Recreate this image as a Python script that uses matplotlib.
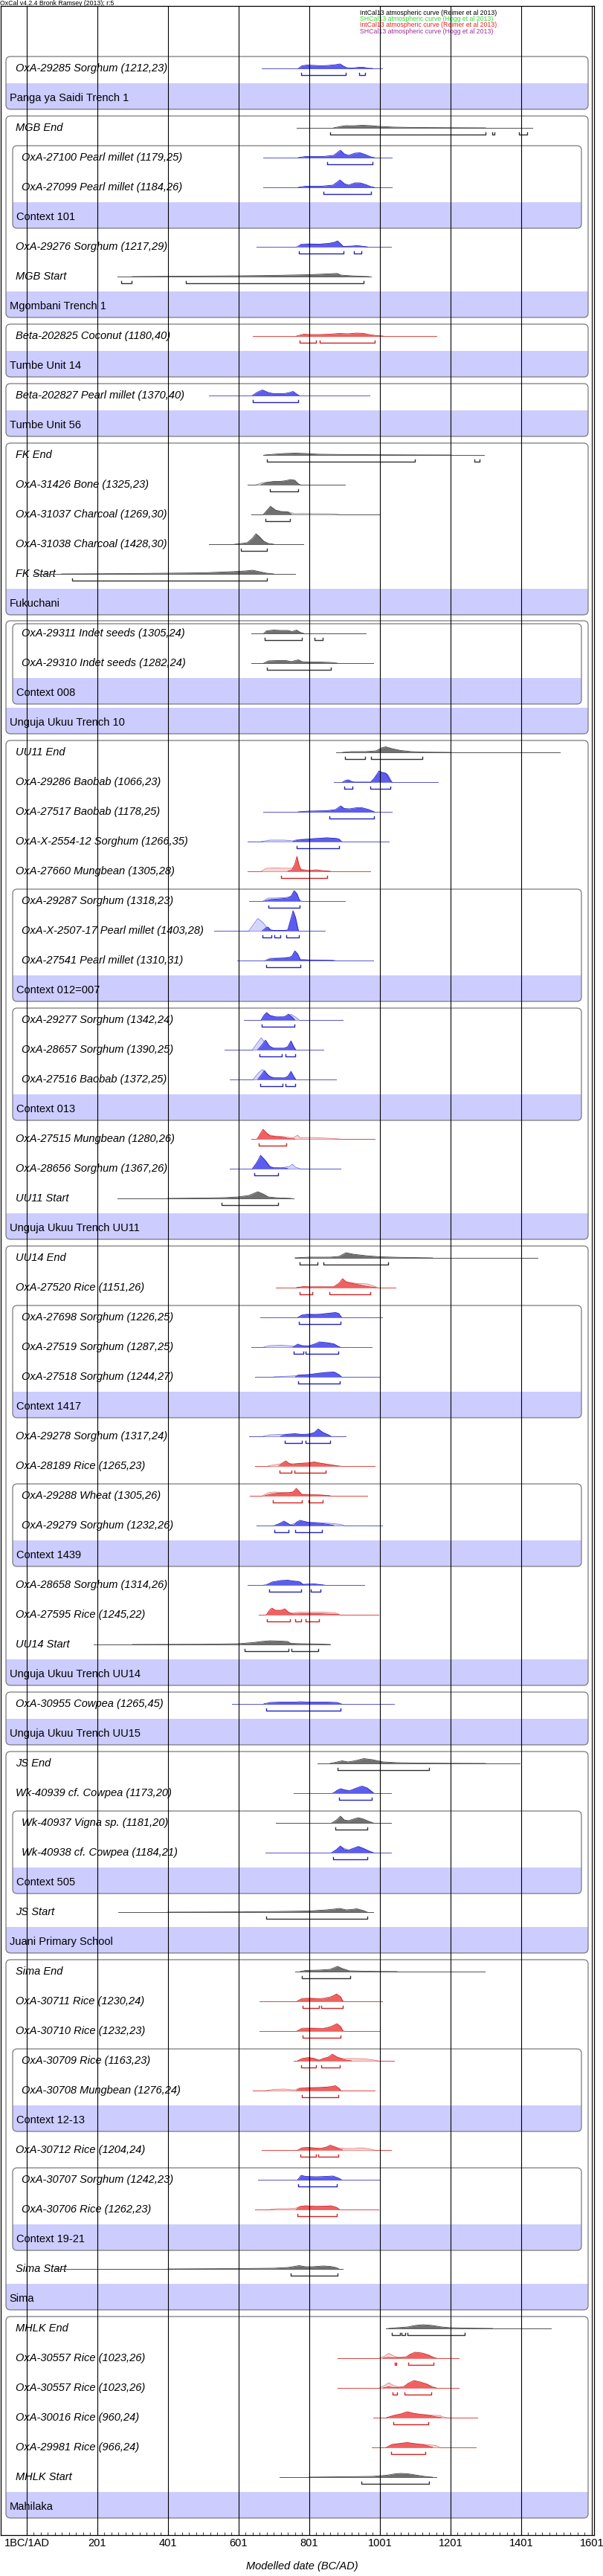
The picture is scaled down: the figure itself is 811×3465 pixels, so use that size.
import numpy as np
import matplotlib.pyplot as plt
from matplotlib.patches import FancyBboxPatch, Rectangle

# ---- data read from the OxCal multiplot ----
labels = [
    "OxA-29285 Sorghum (1212,23)", "Panga ya Saidi Trench 1",
    "MGB End", "OxA-27100 Pearl millet (1179,25)", "OxA-27099 Pearl millet (1184,26)",
    "Context 101", "OxA-29276 Sorghum (1217,29)", "MGB Start", "Mgombani Trench 1",
    "Beta-202825 Coconut (1180,40)", "Tumbe Unit 14",
    "Beta-202827 Pearl millet (1370,40)", "Tumbe Unit 56",
    "FK End", "OxA-31426 Bone (1325,23)", "OxA-31037 Charcoal (1269,30)",
    "OxA-31038 Charcoal (1428,30)", "FK Start", "Fukuchani",
    "OxA-29311 Indet seeds (1305,24)", "OxA-29310 Indet seeds (1282,24)", "Context 008",
    "Unguja Ukuu Trench 10",
    "UU11 End", "OxA-29286 Baobab (1066,23)", "OxA-27517 Baobab (1178,25)",
    "OxA-X-2554-12 Sorghum (1266,35)", "OxA-27660 Mungbean (1305,28)",
    "OxA-29287 Sorghum (1318,23)", "OxA-X-2507-17 Pearl millet (1403,28)",
    "OxA-27541 Pearl millet (1310,31)", "Context 012=007",
    "OxA-29277 Sorghum (1342,24)", "OxA-28657 Sorghum (1390,25)", "OxA-27516 Baobab (1372,25)",
    "Context 013", "OxA-27515 Mungbean (1280,26)", "OxA-28656 Sorghum (1367,26)",
    "UU11 Start", "Unguja Ukuu Trench UU11",
    "UU14 End", "OxA-27520 Rice (1151,26)", "OxA-27698 Sorghum (1226,25)",
    "OxA-27519 Sorghum (1287,25)", "OxA-27518 Sorghum (1244,27)", "Context 1417",
    "OxA-29278 Sorghum (1317,24)", "OxA-28189 Rice (1265,23)", "OxA-29288 Wheat (1305,26)",
    "OxA-29279 Sorghum (1232,26)", "Context 1439", "OxA-28658 Sorghum (1314,26)",
    "OxA-27595 Rice (1245,22)", "UU14 Start", "Unguja Ukuu Trench UU14",
    "OxA-30955 Cowpea (1265,45)", "Unguja Ukuu Trench UU15",
    "JS End", "Wk-40939 cf. Cowpea (1173,20)", "Wk-40937 Vigna sp. (1181,20)",
    "Wk-40938 cf. Cowpea (1184,21)", "Context 505", "JS Start", "Juani Primary School",
    "Sima End", "OxA-30711 Rice (1230,24)", "OxA-30710 Rice (1232,23)",
    "OxA-30709 Rice (1163,23)", "OxA-30708 Mungbean (1276,24)", "Context 12-13",
    "OxA-30712 Rice (1204,24)", "OxA-30707 Sorghum (1242,23)", "OxA-30706 Rice (1262,23)",
    "Context 19-21", "Sima Start", "Sima",
    "MHLK End", "OxA-30557 Rice (1023,26)", "OxA-30557 Rice (1023,26)",
    "OxA-30016 Rice (960,24)", "OxA-29981 Rice (966,24)", "MHLK Start", "Mahilaka",
]

# curve colour per row: b = blue, r = red, k = black, - = group band
row_color = ("b-kbb-bk-r" "-b-kkkkk-k" "k--kbbbrbb" "b-bbb-rbk-" "krbbb-brrb"
             "-brk-b-kbk" "b-k-krrrr-" "rbr-k-krrr" "rk-")

# (name, first row, band row, nesting level)
groups = [
    ("Panga ya Saidi Trench 1", 0, 1, 0),
    ("Mgombani Trench 1", 2, 8, 0), ("Context 101", 3, 5, 1),
    ("Tumbe Unit 14", 9, 10, 0), ("Tumbe Unit 56", 11, 12, 0),
    ("Fukuchani", 13, 18, 0),
    ("Unguja Ukuu Trench 10", 19, 22, 0), ("Context 008", 19, 21, 1),
    ("Unguja Ukuu Trench UU11", 23, 39, 0), ("Context 012=007", 28, 31, 1),
    ("Context 013", 32, 35, 1),
    ("Unguja Ukuu Trench UU14", 40, 54, 0), ("Context 1417", 42, 45, 1),
    ("Context 1439", 48, 50, 1),
    ("Unguja Ukuu Trench UU15", 55, 56, 0),
    ("Juani Primary School", 57, 63, 0), ("Context 505", 59, 61, 1),
    ("Sima", 64, 75, 0), ("Context 12-13", 67, 69, 1), ("Context 19-21", 71, 73, 1),
    ("Mahilaka", 76, 82, 0),
]

# extent of the plotted distribution (years AD)
spread = {
    0: (666, 1007), 2: (766, 1432), 3: (671, 1035), 4: (671, 1035), 6: (651, 1032),
    7: (257, 976), 9: (641, 1161), 11: (517, 971), 13: (671, 1296), 14: (626, 902),
    15: (636, 1002), 16: (517, 785), 17: (20, 761), 19: (636, 962), 20: (636, 982),
    23: (877, 1511), 24: (870, 1166), 25: (671, 1035), 26: (626, 1026), 27: (626, 974),
    28: (631, 902), 29: (531, 845), 30: (596, 982), 32: (616, 896), 33: (561, 841),
    34: (575, 877), 36: (636, 986), 37: (575, 890), 38: (257, 756), 40: (762, 1447),
    41: (706, 1046), 42: (662, 1007), 43: (636, 977), 44: (647, 1002), 46: (631, 905),
    47: (647, 986), 48: (632, 966), 49: (651, 1007), 51: (626, 956), 52: (657, 996),
    53: (190, 861), 55: (582, 1041), 57: (825, 1396), 58: (756, 1032), 59: (706, 1032),
    60: (676, 1032), 62: (260, 982), 64: (761, 1298), 65: (661, 1007), 66: (661, 1002),
    67: (756, 1041), 68: (641, 986), 70: (666, 1032), 71: (656, 1002), 72: (647, 996),
    74: (80, 896), 76: (1017, 1486), 77: (880, 1225), 78: (880, 1225), 79: (982, 1276),
    80: (977, 1272), 81: (717, 1161),
}

# 95.4% ranges
ranges = {
    0: [(778, 905), (942, 958)], 2: [(860, 1300), (1319, 1326), (1394, 1418)],
    3: [(851, 979)], 4: [(840, 976)], 6: [(772, 898), (928, 948)],
    7: [(268, 297), (452, 955)], 9: [(773, 821), (831, 987)], 11: [(641, 769)],
    13: [(681, 1101), (1268, 1284)], 14: [(689, 770)], 15: [(676, 746)], 16: [(607, 680)],
    17: [(130, 681)], 19: [(674, 779), (816, 838)], 20: [(681, 863)],
    23: [(902, 958), (975, 1120)], 24: [(900, 923), (974, 1030)], 25: [(857, 985)],
    26: [(765, 886)], 27: [(721, 852)], 28: [(685, 773)],
    29: [(669, 694), (702, 719), (736, 771)], 30: [(679, 776)], 32: [(666, 758)],
    33: [(660, 724), (734, 761)], 34: [(662, 726), (734, 760)], 36: [(657, 735)],
    37: [(646, 712)], 38: [(553, 712)], 40: [(774, 824), (842, 1024)],
    41: [(774, 810), (858, 974)], 42: [(772, 890)], 43: [(756, 785), (790, 884)],
    44: [(770, 888)], 46: [(731, 779), (791, 859)], 47: [(717, 751), (759, 847)],
    48: [(698, 781), (799, 838)], 49: [(702, 742), (762, 836)],
    51: [(687, 777), (805, 832)], 52: [(681, 746), (760, 777), (790, 828)],
    53: [(618, 743), (750, 827)], 55: [(678, 890)], 57: [(881, 1140)], 58: [(885, 977)],
    59: [(875, 965)], 60: [(868, 965)], 62: [(678, 965)], 64: [(781, 917)],
    65: [(783, 829), (834, 896)], 66: [(783, 890)], 67: [(777, 821), (835, 888)],
    68: [(781, 884)], 70: [(775, 821), (827, 884)], 71: [(770, 879)], 72: [(768, 879)],
    74: [(749, 880)], 76: [(1035, 1058), (1062, 1073), (1078, 1240)],
    77: [(1043, 1047), (1081, 1153)], 78: [(1037, 1050), (1071, 1147)],
    79: [(1039, 1137)], 80: [(1032, 1129)], 81: [(948, 1141)],
}

# modelled (posterior) probability, (year, relative density)
posterior = {
    0: [(770, 0), (780, 3.5), (795, 4.5), (815, 4), (835, 3.5), (855, 4), (875, 5), (888, 6), (898, 3), (908, 0.8), (925, 0.5), (940, 1.5), (955, 1.5), (965, 0.3), (980, 0)],
    2: [(870, 0), (890, 2), (905, 3), (925, 2.8), (950, 3.5), (975, 3), (1000, 2), (1040, 1), (1100, 0.5), (1200, 0.2), (1300, 0)],
    3: [(770, 0), (790, 1.5), (840, 1.5), (870, 3), (889, 10), (900, 5), (912, 3), (930, 6), (945, 6.5), (960, 4), (975, 1), (985, 0)],
    4: [(770, 0), (790, 1.5), (835, 1.5), (868, 3), (888, 10), (900, 5), (912, 3), (930, 6), (945, 6), (962, 3.5), (975, 1), (985, 0)],
    6: [(770, 0), (778, 3), (800, 3.5), (830, 3.5), (855, 4.5), (872, 6), (881, 8), (890, 4), (897, 0.5), (920, 0.3), (932, 1.5), (945, 1.2), (955, 0.3), (965, 0)],
    7: [(300, 0), (450, 0.5), (600, 1), (700, 1.5), (800, 2.5), (850, 3.5), (880, 4.2), (890, 2), (920, 1), (950, 0.3), (970, 0)],
    9: [(765, 0), (785, 2.5), (805, 2), (830, 2), (860, 2.5), (885, 3.5), (910, 3), (935, 4), (955, 3.5), (975, 1.5), (995, 0.5), (1010, 0)],
    11: [(640, 0), (652, 4), (668, 7.5), (685, 4), (700, 2.5), (730, 2.5), (745, 4), (755, 5.5), (765, 2), (772, 0)],
    13: [(675, 0), (700, 1), (730, 2), (760, 2.5), (790, 2), (830, 1), (900, 0.6), (1000, 0.3), (1100, 0.1), (1200, 0)],
    14: [(665, 0), (680, 3), (700, 4.5), (720, 4.5), (735, 5.5), (748, 7), (760, 6), (770, 1), (775, 0)],
    15: [(672, 0), (682, 6), (691, 11), (705, 6), (720, 4), (740, 3.5), (750, 0)],
    16: [(590, 0), (610, 1), (625, 2), (640, 8), (650, 14), (660, 10), (672, 4), (685, 1), (700, 0)],
    17: [(100, 0), (300, 0.5), (500, 1.5), (580, 3), (620, 4), (640, 5), (660, 3), (680, 1), (700, 0)],
    19: [(672, 0), (680, 3.5), (700, 4.5), (720, 4), (740, 4), (752, 2.5), (765, 4.5), (775, 1.5), (785, 0)],
    20: [(672, 0), (685, 3), (710, 3.5), (735, 3.5), (750, 2), (770, 4.5), (780, 2), (800, 1.5), (830, 1.5), (860, 1), (880, 0)],
    23: [(895, 0), (920, 1), (960, 1), (990, 2), (1005, 6), (1017, 7.5), (1035, 5), (1060, 2.5), (1090, 1), (1130, 0.3), (1200, 0)],
    24: [(895, 0), (905, 2.5), (912, 3), (922, 0.5), (930, 0), (975, 0), (985, 5), (998, 15), (1008, 13), (1020, 11), (1030, 2), (1035, 0)],
    25: [(770, 0), (800, 1), (850, 1.5), (875, 3), (890, 8), (900, 4.5), (915, 4), (935, 5.5), (950, 5.5), (970, 3), (985, 0)],
    26: [(755, 0), (770, 2), (790, 3), (820, 4), (850, 5), (870, 4.5), (885, 3.5), (892, 0)],
    27: [(740, 0), (752, 2), (760, 10), (766, 20), (772, 8), (778, 1.5), (800, 1), (820, 2), (835, 1), (860, 0)],
    28: [(675, 0), (690, 2), (720, 3), (740, 4), (750, 7), (758, 14), (766, 10), (774, 0)],
    29: [(668, 0), (678, 4), (684, 5), (692, 1), (700, 0.5), (730, 0.5), (740, 1), (748, 15), (755, 27), (762, 18), (770, 0)],
    30: [(680, 0), (690, 2), (720, 3), (745, 4), (752, 6), (760, 13), (768, 9), (776, 0.5), (800, 0.5), (840, 0.5), (870, 0)],
    32: [(665, 0), (672, 6), (680, 10), (690, 6), (705, 4), (730, 4), (742, 8), (752, 4), (760, 0)],
    33: [(655, 0), (668, 7), (677, 13), (688, 5), (700, 2), (730, 2), (740, 4), (749, 12), (757, 4), (762, 0)],
    34: [(655, 0), (665, 6), (674, 12), (685, 5), (700, 2), (730, 2), (740, 4), (749, 11), (757, 4), (762, 0)],
    36: [(655, 0), (663, 8), (670, 13), (680, 8), (690, 4), (710, 3), (730, 2), (740, 0.5), (760, 0)],
    37: [(640, 0), (652, 8), (663, 18), (675, 12), (688, 3), (700, 1), (730, 1), (740, 0)],
    38: [(400, 0), (500, 0.5), (560, 1), (600, 2), (630, 4), (655, 9), (670, 6), (685, 2), (710, 0.8), (750, 0)],
    40: [(760, 0), (800, 1), (860, 1), (885, 2), (905, 7), (925, 5), (960, 3), (1000, 1.5), (1050, 0.8), (1110, 0.3), (1150, 0)],
    41: [(765, 0), (785, 1.5), (800, 1), (870, 1), (885, 6), (895, 12), (905, 8), (920, 6), (940, 4), (960, 2), (980, 0.5), (990, 0)],
    42: [(770, 0), (780, 3), (800, 3.5), (830, 4), (855, 5.5), (875, 6.5), (885, 5), (892, 0)],
    43: [(755, 0), (768, 4), (780, 2), (800, 1.5), (815, 4), (830, 7), (850, 6), (870, 4.5), (882, 1), (888, 0)],
    44: [(762, 0), (770, 2.5), (800, 3), (830, 5), (850, 6), (870, 6.5), (885, 3), (892, 0)],
    46: [(720, 0), (735, 2.5), (760, 3.5), (780, 2.5), (800, 3), (815, 5), (826, 10), (840, 5), (855, 2), (862, 0)],
    47: [(715, 0), (725, 4), (734, 7), (745, 3), (755, 2), (770, 3.5), (795, 4), (815, 5.5), (830, 4), (860, 1.5), (883, 0)],
    48: [(675, 0), (690, 2), (710, 3.5), (740, 4), (755, 5), (764, 10), (772, 6), (780, 1.5), (820, 1), (845, 0.5), (860, 0)],
    49: [(705, 0), (718, 3), (729, 6), (740, 3), (748, 0.5), (758, 0.5), (766, 5), (775, 7), (800, 4), (830, 3), (855, 1.5), (870, 0)],
    51: [(680, 0), (695, 4), (720, 6), (740, 6.5), (760, 5), (775, 4), (782, 0.5), (800, 1), (815, 1.5), (830, 0.5), (840, 0)],
    52: [(680, 0), (688, 6), (695, 9), (705, 6), (720, 6), (732, 8), (742, 3), (755, 1), (780, 1.5), (830, 1.5), (870, 0.5), (885, 0)],
    53: [(300, 0), (500, 0.3), (600, 1), (640, 2.5), (665, 4), (690, 5), (720, 4.5), (740, 4), (748, 1.5), (780, 1), (820, 0.8), (860, 0)],
    55: [(672, 0), (690, 2), (720, 2.5), (760, 2.5), (775, 3), (800, 2.5), (850, 2.5), (880, 2), (892, 0)],
    57: [(860, 0), (880, 2), (894, 3.5), (910, 2), (930, 3.5), (955, 6.5), (980, 5), (1010, 2), (1050, 1), (1100, 0.5), (1200, 0.2), (1300, 0)],
    58: [(870, 0), (880, 4), (890, 6), (903, 4), (915, 3), (935, 7), (950, 9.5), (965, 7), (975, 3), (982, 0)],
    59: [(865, 0), (878, 4), (889, 9), (900, 4), (912, 3), (928, 5.5), (940, 7), (955, 5), (970, 2), (982, 0)],
    60: [(865, 0), (878, 4), (889, 9), (900, 4), (912, 3), (928, 6), (940, 8), (955, 5.5), (970, 2), (982, 0)],
    62: [(400, 0), (600, 0.3), (700, 0.8), (800, 1.5), (850, 3), (870, 4), (887, 5), (905, 3), (920, 3.5), (935, 4.5), (955, 2), (965, 0)],
    64: [(775, 0), (790, 1.5), (830, 2), (860, 3), (881, 7), (895, 4), (915, 1), (960, 0.5), (1000, 0.2), (1050, 0)],
    65: [(768, 0), (780, 3), (810, 3.5), (840, 3), (860, 5), (878, 10), (890, 6), (896, 0)],
    66: [(768, 0), (780, 3), (810, 3.5), (840, 3), (860, 5), (879, 10), (890, 6), (896, 0)],
    67: [(768, 0), (780, 3), (800, 4.5), (815, 3), (828, 0.5), (840, 3), (855, 5), (866, 9), (880, 5), (895, 2), (910, 0.5), (920, 0)],
    68: [(765, 0), (775, 3), (800, 3.5), (830, 4), (860, 5), (875, 6.5), (885, 3), (890, 0)],
    70: [(770, 0), (780, 3), (800, 3.5), (820, 2.5), (835, 2), (850, 4), (860, 6.5), (875, 4), (885, 1.5), (895, 0)],
    71: [(768, 0), (778, 6), (790, 4.5), (820, 4), (850, 4.5), (868, 5), (885, 2), (892, 0)],
    72: [(764, 0), (775, 4), (790, 5), (820, 4), (850, 4.5), (862, 5), (878, 3), (886, 0)],
    74: [(400, 0), (600, 0.5), (700, 1), (740, 2), (760, 3.5), (772, 4.5), (790, 3), (810, 3), (840, 4), (860, 3.5), (876, 2), (885, 0)],
    76: [(1025, 0), (1050, 1), (1080, 2), (1100, 4), (1123, 5), (1150, 4), (1175, 2), (1200, 1), (1250, 0.4), (1320, 0)],
    77: [(1010, 0), (1025, 1), (1040, 0.5), (1075, 1), (1085, 5), (1100, 8), (1120, 7), (1140, 4), (1152, 0.5), (1160, 0)],
    78: [(1010, 0), (1025, 1.5), (1040, 0.5), (1068, 1), (1080, 6), (1097, 10), (1115, 8), (1135, 5), (1150, 0.5), (1160, 0)],
    79: [(1020, 0), (1040, 3), (1060, 5), (1078, 8), (1095, 6), (1120, 4), (1140, 3), (1160, 1), (1175, 0)],
    80: [(1020, 0), (1035, 4), (1060, 5.5), (1078, 6.5), (1100, 5), (1125, 3.5), (1140, 1.5), (1150, 0)],
    81: [(800, 0), (900, 0.5), (980, 1), (1020, 2.5), (1045, 4.5), (1060, 5), (1080, 4.5), (1100, 3), (1120, 1.5), (1135, 0.5), (1150, 0)],
}

# unmodelled calibrated date (likelihood), drawn lighter behind
likelihood = {
    6: [(765, 0), (778, 3.5), (800, 4), (830, 3.5), (860, 4.5), (881, 7), (897, 0.5), (932, 1.5), (960, 0)],
    14: [(650, 0), (670, 3), (700, 3.5), (740, 4), (760, 3), (775, 0)],
    15: [(670, 0), (682, 5), (691, 9), (705, 5), (720, 3.5), (745, 3), (760, 1), (780, 1.2), (830, 1), (870, 0.8), (885, 0)],
    24: [(975, 0), (990, 8), (1000, 12), (1015, 13), (1025, 9), (1035, 0)],
    26: [(665, 0), (690, 2), (730, 2), (755, 1), (765, 2.5), (800, 3.5), (850, 5), (880, 4), (892, 0)],
    27: [(665, 0), (680, 4), (700, 4.5), (745, 4), (760, 5), (766, 14), (775, 3), (800, 1), (840, 0.5), (860, 0)],
    28: [(670, 0), (685, 4), (700, 4), (730, 4.5), (750, 6), (758, 12), (772, 2), (780, 0)],
    29: [(630, 0), (645, 10), (655, 16.5), (668, 12), (680, 5), (692, 1), (700, 0.5), (730, 0.5), (740, 1), (748, 12), (755, 20), (764, 10), (770, 0)],
    30: [(675, 0), (690, 3), (730, 3.5), (750, 5), (760, 11), (772, 2), (800, 0.8), (850, 0.5), (875, 0)],
    32: [(665, 0), (678, 9), (690, 6), (710, 4), (735, 4.5), (750, 7.5), (765, 3), (772, 0)],
    33: [(640, 0), (655, 10), (665, 16), (675, 10), (690, 3), (700, 2), (730, 2), (740, 4), (749, 10), (758, 3), (763, 0)],
    34: [(642, 0), (655, 8), (668, 13.5), (678, 9), (692, 3), (730, 2), (740, 4), (749, 9), (758, 3), (763, 0)],
    36: [(652, 0), (662, 6), (672, 9), (685, 6), (700, 4), (730, 3), (755, 1.5), (768, 5), (775, 1.5), (800, 2), (830, 1.5), (870, 0.5), (885, 0)],
    37: [(640, 0), (652, 7), (665, 15), (680, 9), (692, 2), (720, 1), (745, 3), (753, 6), (762, 2), (775, 0)],
    41: [(765, 0), (785, 1), (870, 1), (885, 4), (895, 9), (910, 7), (940, 5.5), (965, 5), (985, 2), (995, 0)],
    42: [(768, 0), (780, 3), (795, 4.5), (820, 4), (850, 5), (880, 6), (892, 0)],
    43: [(672, 0), (690, 2), (720, 2.5), (740, 2), (760, 1), (768, 2.5), (790, 1), (815, 3), (830, 5), (855, 5), (875, 3), (888, 0)],
    44: [(700, 0), (740, 0.8), (765, 1.5), (800, 3), (840, 5), (875, 6), (892, 0)],
    46: [(670, 0), (690, 2), (720, 2.5), (760, 3), (790, 2), (815, 4.5), (826, 8), (845, 4), (862, 0)],
    47: [(685, 0), (700, 1.5), (720, 3), (734, 5), (750, 3), (790, 4), (815, 5), (845, 3), (880, 0.5), (890, 0)],
    48: [(668, 0), (685, 4), (700, 5), (725, 4.5), (750, 4.5), (764, 7), (780, 2), (830, 1.5), (860, 0)],
    49: [(700, 0), (729, 4), (748, 1), (766, 4), (780, 5), (820, 4), (860, 3), (890, 1.5), (900, 0)],
    51: [(672, 0), (690, 2), (720, 5), (770, 5), (785, 1), (800, 1.5), (835, 0.5), (845, 0)],
    52: [(678, 0), (695, 6), (720, 5), (732, 6), (750, 2), (770, 3.5), (840, 3.5), (875, 2.5), (888, 0)],
    58: [(865, 0), (890, 5), (915, 3.5), (950, 8), (970, 5), (985, 0)],
    60: [(865, 0), (889, 8), (912, 3.5), (940, 8.5), (960, 4), (982, 0)],
    65: [(765, 0), (780, 4), (800, 4.5), (830, 3.5), (860, 6), (878, 8.5), (892, 2), (900, 0)],
    66: [(765, 0), (780, 4), (810, 4), (840, 3.5), (860, 6), (878, 8.5), (892, 2), (900, 0)],
    67: [(768, 0), (790, 3), (812, 3.5), (828, 1), (845, 3), (866, 6), (880, 4.5), (900, 3), (930, 3), (960, 2.5), (985, 1), (995, 0)],
    68: [(680, 0), (700, 1.5), (730, 2), (750, 1), (762, 1), (770, 3), (800, 4), (840, 4), (870, 5.5), (888, 0)],
    70: [(768, 0), (790, 3), (830, 2), (860, 5), (880, 3), (905, 2), (930, 2), (945, 3), (965, 2), (985, 0)],
    72: [(690, 0), (710, 1), (740, 1), (760, 1.5), (775, 4), (800, 4.5), (860, 4.5), (888, 0)],
    77: [(1000, 0), (1015, 3), (1026, 6.5), (1040, 3), (1055, 1), (1075, 2), (1090, 5), (1110, 6), (1130, 5), (1150, 2), (1160, 0)],
    78: [(1000, 0), (1015, 3.5), (1026, 7), (1040, 3), (1055, 1), (1068, 2), (1085, 6), (1105, 7), (1130, 5), (1150, 2), (1160, 0)],
    79: [(1020, 0), (1045, 3), (1078, 6.5), (1100, 5), (1130, 4), (1160, 3), (1170, 3), (1180, 1), (1190, 0)],
    80: [(1018, 0), (1040, 4), (1078, 6), (1110, 4.5), (1140, 3.5), (1160, 2.5), (1170, 0)],
}

tick_years = [1, 201, 401, 601, 801, 1001, 1201, 1401, 1601]
tick_labels = ["1BC/1AD", "201", "401", "601", "801", "1001", "1201", "1401", "1601"]

legend_lines = [
    ("IntCal13 atmospheric curve (Reimer et al 2013)", "#000000"),
    ("SHCal13 atmospheric curve (Hogg et al 2013)", "#33dd33"),
    ("IntCal13 atmospheric curve (Reimer et al 2013)", "#ee2222"),
    ("SHCal13 atmospheric curve (Hogg et al 2013)", "#993399"),
]

PAL = {
    'b': dict(fill='#5c5cf0', edge='#2222c0', lik='#d6d6fa', likedge='#7a7ae0', base='#5555cc', rng='#2222bb'),
    'r': dict(fill='#f06060', edge='#d02222', lik='#fad6d6', likedge='#e07a7a', base='#e04444', rng='#d02222'),
    'k': dict(fill='#707070', edge='#404040', lik='#d6d6d6', likedge='#909090', base='#505050', rng='#303030'),
}

plt.rcParams['font.family'] = ['Liberation Sans', 'DejaVu Sans']

W, H = 812, 3466
fig = plt.figure(figsize=(W / 100, H / 100), dpi=100)
FL, FR, FT, FB = 1, 799, 9, 3411
pos = [FL / W, 1 - FB / H, (FR - FL) / W, (FB - FT) / H]

# layout axes in pixels: boxes, bands and labels
bx = fig.add_axes(pos, zorder=0)
bx.set_xlim(FL, FR)
bx.set_ylim(FB, FT)
bx.axis('off')

# data axes: years along x, pixel rows along y
ax = fig.add_axes(pos, zorder=1)
ax.patch.set_alpha(0)
PX_YR = 95 / 200
ax.set_xlim(1 + (FL - 36) / PX_YR, 1 + (FR - 36) / PX_YR)
ax.set_ylim(FB, FT)

ROW0, PITCH = 92, 40
def yc(i):
    return ROW0 + PITCH * i

level = [0] * len(labels)
for name, first, band, lev in groups:
    for i in range(first, band):
        level[i] = max(level[i], lev)
starts = {}
for name, first, band, lev in groups:
    starts.setdefault(first, []).append(lev)

# group boxes with shaded name bands
for name, first, band, lev in groups:
    x0, x1 = 8 + 9 * lev, 791 - 9 * lev
    top = yc(first) - 15
    if len(starts[first]) > 1:
        top += -1 if lev == 0 else 3
    bot = yc(band) + 16
    box = FancyBboxPatch((x0, top), x1 - x0, bot - top,
                         boxstyle='round,pad=0,rounding_size=6',
                         fc='none', ec='#7a7a7a', lw=0.9, zorder=2)
    bx.add_patch(box)
    band_rect = Rectangle((x0, yc(band) - 19), x1 - x0, 35, fc='#ccccff', ec='none', zorder=1)
    bx.add_patch(band_rect)
    band_rect.set_clip_path(box)
    bx.text(x0 + 4.7, yc(band), name, fontsize=10.5, va='center', ha='left', zorder=3)

for i, lab in enumerate(labels):
    c = row_color[i]
    if c == '-':
        continue
    bx.text(21 + 8.5 * level[i], yc(i), lab, fontsize=10.5, style='italic',
            va='center', ha='left', zorder=3)
    p = PAL[c]
    yb = yc(i) + 1
    lo, hi = spread[i]
    ax.plot([lo, hi], [yb, yb], color=p['base'], lw=0.7, zorder=2)
    if i in likelihood:
        xs, hs = zip(*likelihood[i])
        ax.fill_between(xs, yb, yb - np.array(hs), color=p['lik'], lw=0, zorder=3)
        ax.plot(xs, yb - np.array(hs), color=p['likedge'], lw=0.6, zorder=3)
    xs, hs = zip(*posterior[i])
    ax.fill_between(xs, yb, yb - np.array(hs), color=p['fill'], lw=0, zorder=4)
    ax.plot(xs, yb - np.array(hs), color=p['edge'], lw=0.6, zorder=4)
    yr = yc(i) + 9.5
    for a, b in ranges.get(i, []):
        ax.plot([a, a, b, b], [yr - 3, yr, yr, yr - 3], color=p['rng'], lw=1.0, zorder=5)

# vertical grid on top of everything
for g in tick_years:
    ax.axvline(g, color='black', lw=0.8, zorder=10)

ax.set_xticks(tick_years)
ax.set_xticklabels(tick_labels, fontsize=10.5)
ax.set_xticks(np.arange(1, 1602, 20), minor=True)
ax.set_yticks([])
ax.tick_params(axis='x', which='major', direction='in', length=6, width=0.8, pad=2, color='#444444')
ax.tick_params(axis='x', which='minor', direction='in', length=3, width=0.8, color='#444444')
for s in ax.spines.values():
    s.set_color('black')
    s.set_linewidth(0.9)

bx.text(0, 4.5, "OxCal v4.2.4 Bronk Ramsey (2013); r:5", fontsize=6.3,
        va='center', ha='left', clip_on=False)
for k, (txt, col) in enumerate(legend_lines):
    bx.text(484, 17 + 8.4 * k, txt, fontsize=6.3, color=col, va='center', ha='left', zorder=3)

bx.text(406, 3452, "Modelled date (BC/AD)", fontsize=10.5, style='italic',
        ha='center', va='center', clip_on=False)

fig.savefig('out.png', dpi=100)
